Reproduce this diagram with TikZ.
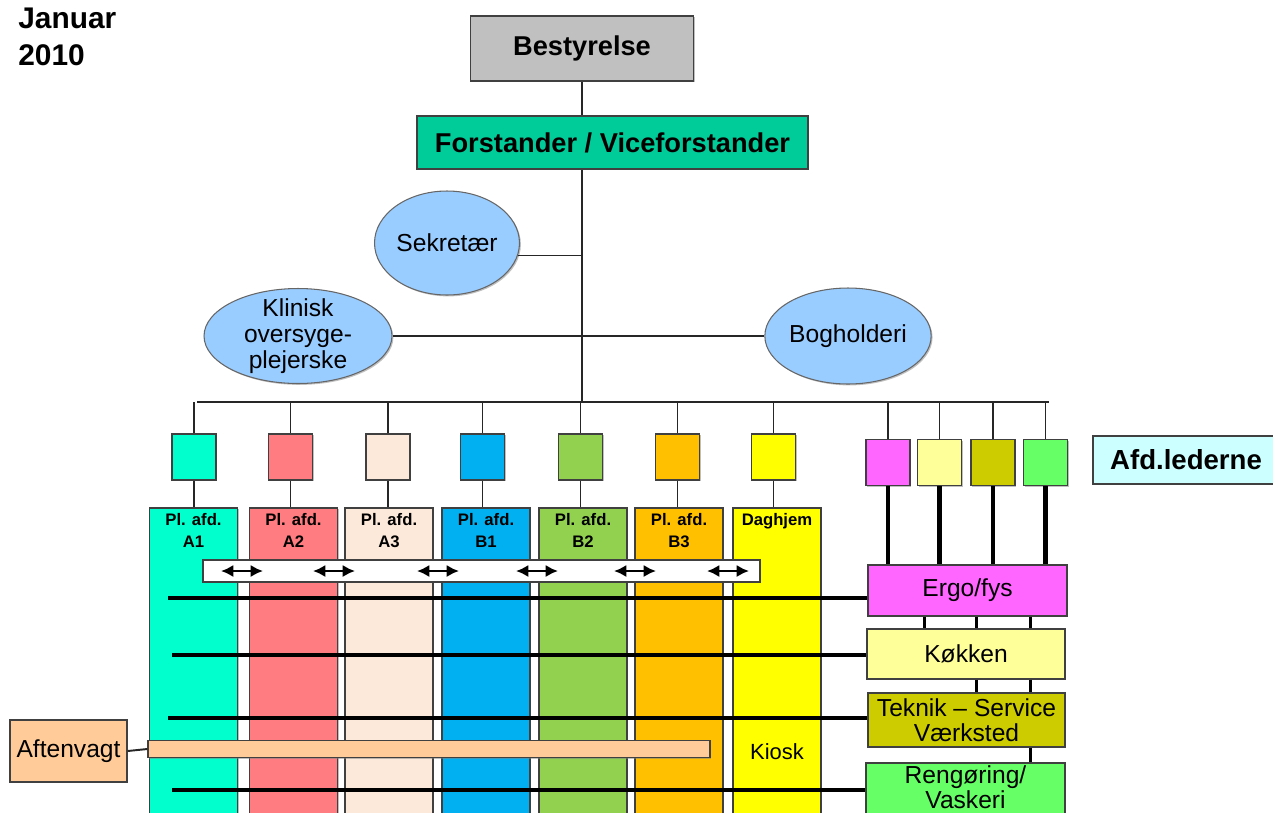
\documentclass[tikz,border=0pt]{standalone}
\usepackage{fontspec}
\setmainfont{Liberation Sans}
\usepackage{tikz}
\usetikzlibrary{shadows}
\usetikzlibrary{shapes.geometric}
\usetikzlibrary{arrows.meta}

\definecolor{boardgray}{HTML}{C0C0C0}
\definecolor{leadgreen}{HTML}{00CC99}
\definecolor{staffblue}{HTML}{99CCFF}
\definecolor{aone}{HTML}{00FFCC}
\definecolor{atwo}{HTML}{FF7C80}
\definecolor{athree}{HTML}{FDE9D9}
\definecolor{bone}{HTML}{00B0F0}
\definecolor{btwo}{HTML}{92D050}
\definecolor{bthree}{HTML}{FFC000}
\definecolor{dagyellow}{HTML}{FFFF00}
\definecolor{ergopink}{HTML}{FF66FF}
\definecolor{kitchenyellow}{HTML}{FFFF99}
\definecolor{techolive}{HTML}{CCCC00}
\definecolor{cleangreen}{HTML}{66FF66}
\definecolor{ledercyan}{HTML}{CCFFFF}
\definecolor{eveningpeach}{HTML}{FFCC99}

\newcommand{\datefont}{\fontsize{17}{21}\selectfont\bfseries}
\newcommand{\headfont}{\fontsize{15.5}{18}\selectfont\bfseries}
\newcommand{\stafffont}{\fontsize{14}{15}\selectfont}
\newcommand{\deptfont}{\fontsize{9.5}{13}\selectfont\bfseries}
\newcommand{\servicefont}{\fontsize{14}{14.5}\selectfont}

\tikzset{
    box/.style={rectangle, draw=black!75, line width=0.8pt, inner sep=0pt, align=center,
        drop shadow={shadow xshift=0.8pt, shadow yshift=-0.8pt, opacity=0.5}},
    staff/.style={ellipse, draw=black!60, line width=0.6pt, fill=staffblue, inner sep=0pt,
        align=center, font=\stafffont,
        drop shadow={shadow xshift=0.8pt, shadow yshift=-0.8pt, opacity=0.5}},
    link/.style={draw=black!85, line width=1.1pt},
    midlink/.style={draw=black, line width=1.7pt},
    heavy/.style={draw=black, line width=2.3pt},
    shiftarrow/.style={line width=1.5pt, {Latex[length=7pt,width=7pt]}-{Latex[length=7pt,width=7pt]}}
}

\begin{document}
\begin{tikzpicture}[x=0.02cm, y=-0.02cm]

    \useasboundingbox (0,0) rectangle (1273,812);

    \node[anchor=north west, align=left, inner sep=0pt, font=\datefont] (date) at (18,8) {Januar\\2010};

    \node[box, fill=boardgray, minimum width=4.46cm, minimum height=1.3cm, font=\headfont] (bestyrelse) at (582,48.5) {Bestyrelse};
    \node[box, fill=leadgreen, minimum width=7.82cm, minimum height=1.06cm, font=\headfont] (forstander) at (612.5,142.5) {Forstander / Viceforstander};

    \node[staff, minimum width=2.9cm, minimum height=2.08cm] (sekretaer) at (447,243) {Sekretær};
    \node[staff, inner ysep=-8pt, minimum width=3.76cm, minimum height=1.9cm] (klinisk) at (298,336) {Klinisk\\oversyge-\\plejerske};
    \node[staff, minimum width=3.32cm, minimum height=1.92cm] (bogholderi) at (848,336) {Bogholderi};

    \coordinate (busL) at (197,402);
    \coordinate (busR) at (1049,402);

    \draw[link] (bestyrelse.south) -- (bestyrelse.south |- forstander.north);
    \draw[link] (bestyrelse.south |- forstander.south) -- (bestyrelse.south |- busL);
    \draw[link] (sekretaer.-10) -- (sekretaer.-10 -| bestyrelse.south);
    \draw[link] (klinisk) -- (bogholderi);
    \draw[link] (busL) -- (busR);

    % plejeafdelinger
    \foreach \n/\bx/\cx/\col/\txt in {A1/194/193.5/aone/{Pl. afd.\\A1},
                                      A2/290.5/293.5/atwo/{Pl. afd.\\A2},
                                      A3/388/389/athree/{Pl. afd.\\A3},
                                      B1/482.5/486/bone/{Pl. afd.\\B1},
                                      B2/580.5/583/btwo/{Pl. afd.\\B2},
                                      B3/677.5/679/bthree/{Pl. afd.\\B3},
                                      D/773.5/777/dagyellow/{Daghjem}} {
        \node[box, fill=\col, minimum width=0.88cm, minimum height=0.92cm] (s\n) at (\bx,457) {};
        \node[box, fill=\col, minimum width=1.76cm, minimum height=6.24cm] (c\n) at (\cx,664) {};
        \node[anchor=north, align=center, inner sep=0pt, font=\deptfont] (t\n) at ([yshift=-3pt]c\n.north) {\txt};
        \draw[link] (s\n.north) -- (s\n.north |- busL);
        \draw[link] (s\n.south) -- (s\n.south |- c\n.north);
    }

    \node[font=\fontsize{12.5}{14}\selectfont] (kiosk) at (777,752) {Kiosk};

    \node[box, fill=white, minimum width=11.14cm, minimum height=0.44cm] (shiftbar) at (481.5,571) {};
    \foreach \x in {242,334,438,537,635,728}
        \draw[shiftarrow] (\x-21,571) -- (\x+21,571);

    % service
    \node[box, fill=ergopink, minimum width=3.98cm, minimum height=1.02cm, font=\servicefont] (ergo) at (967.5,590.5) {Ergo/fys};
    \node[box, fill=kitchenyellow, minimum width=3.96cm, minimum height=1.0cm, font=\servicefont] (koekken) at (966,654) {Køkken};
    \node[box, fill=techolive, minimum width=3.94cm, minimum height=1.08cm, font=\servicefont] (teknik) at (966.5,720) {Teknik – Service\\Værksted};
    \node[box, fill=cleangreen, minimum width=3.98cm, minimum height=1.2cm] (rengoering) at (965.5,793) {};
    \node[anchor=north, align=center, inner sep=0pt, font=\servicefont] (rengtext) at (965.5,765) {Rengøring/\\Vaskeri};

    \foreach \n/\x/\col in {E/888/ergopink, K/939.5/kitchenyellow, T/993/techolive, R/1045.5/cleangreen} {
        \node[box, fill=\col, minimum width=0.88cm, minimum height=0.92cm] (r\n) at (\x,462.5) {};
        \draw[link] (r\n.north) -- (r\n.north |- busR);
        \draw[heavy] (r\n.south) -- (r\n.south |- ergo.north);
    }

    \foreach \x in {924,976,1030}
        \draw[midlink] (\x,0 |- ergo.south) -- (\x,0 |- koekken.north);
    \foreach \x in {976,1030}
        \draw[midlink] (\x,0 |- koekken.south) -- (\x,0 |- teknik.north);
    \draw[midlink] (1030,0 |- teknik.south) -- (1030,0 |- rengoering.north);

    \coordinate (h1) at (168,598);
    \coordinate (h2) at (172,655);
    \coordinate (h3) at (168,718);
    \coordinate (h4) at (172,790);
    \draw[heavy] (h1) -- (h1 -| ergo.west);
    \draw[heavy] (h2) -- (h2 -| koekken.west);
    \draw[heavy] (h3) -- (h3 -| teknik.west);
    \draw[heavy] (h4) -- (h4 -| rengoering.west);

    \node[box, fill=ledercyan, minimum width=3.84cm, minimum height=0.96cm, font=\fontsize{15.7}{18}\selectfont\bfseries] (lederne) at (1189,460) {Afd.lederne\hspace*{0.12cm}};

    \node[box, fill=eveningpeach, minimum width=2.34cm, minimum height=1.24cm, font=\stafffont] (aftenvagt) at (68.5,751) {Aftenvagt};
    \node[box, fill=eveningpeach, minimum width=11.24cm, minimum height=0.34cm] (evening) at (429,749) {};
    \draw[link] (aftenvagt.east) -- (evening.west);

\end{tikzpicture}
\end{document}
